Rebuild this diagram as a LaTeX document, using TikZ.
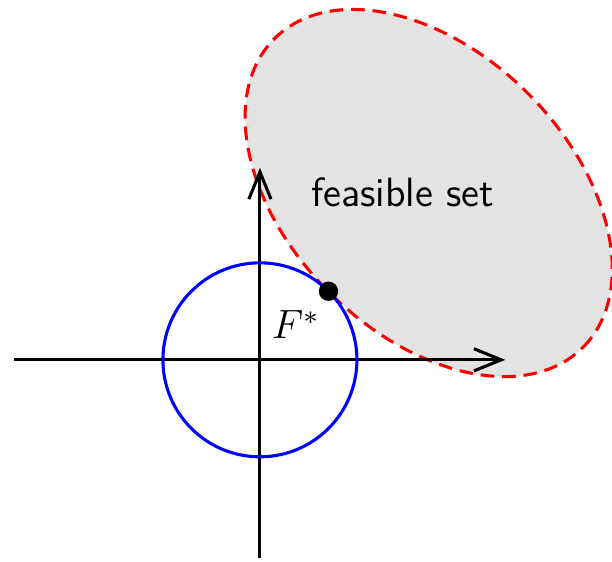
\documentclass[tikz,border=0pt]{standalone}
\usepackage{tikz}
\usetikzlibrary{arrows.meta}

\begin{document}
\begin{tikzpicture}[
    axisline/.style={-{Straight Barb[length=8pt, width=6.5pt]}, line width=0.9pt, color=black},
    feasregion/.style={draw=red, fill=black!11, line width=0.9pt, dash pattern=on 4pt off 2.3pt},
    levelset/.style={draw=blue, line width=0.9pt},
    optpoint/.style={circle, fill=black, inner sep=0pt, minimum size=0.2cm}
]
\useasboundingbox (-2.68,-2.08) rectangle (3.63,3.71);
\draw[feasregion, rotate around={-45:(1.74,1.72)}] (1.74,1.72) ellipse (2.25 and 1.45);
\node[font=\sffamily\large] (fs) at (1.47,1.73) {feasible set};
\coordinate (xl) at (-2.54,0);
\coordinate (xr) at (2.53,0);
\coordinate (yb) at (0,-2.04);
\coordinate (yt) at (0,1.98);
\draw[axisline] (xl) -- (xr);
\draw[axisline] (yb) -- (yt);
\draw[levelset] (0,0) circle (1);
\node[optpoint] (fstar) at (45:1) {};
\node[font=\large] (flabel) at (0.37,0.36) {$F^*$};
\end{tikzpicture}
\end{document}
